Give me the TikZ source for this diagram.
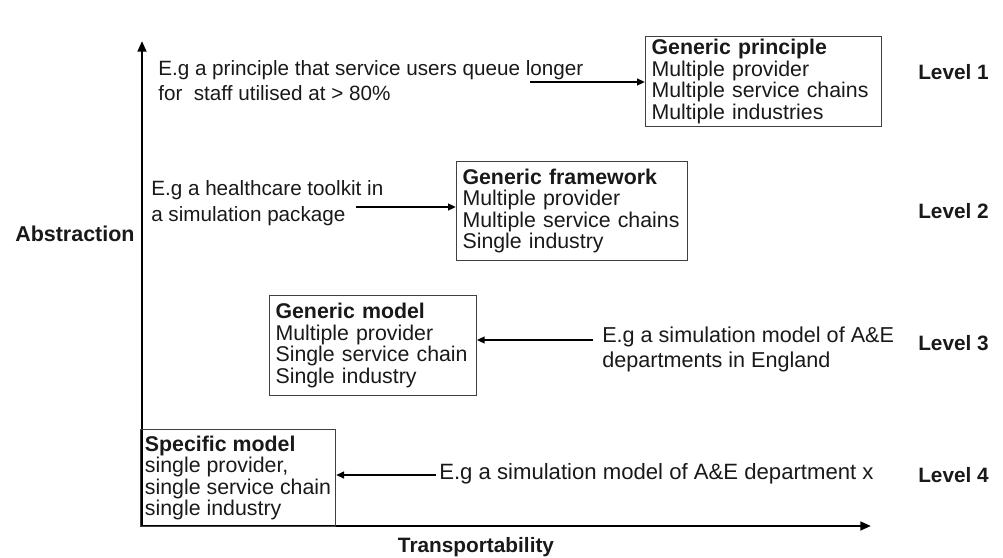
\documentclass[tikz,border=0pt]{standalone}
\usepackage{fontspec}
\setmainfont{Liberation Sans}
\usetikzlibrary{arrows.meta}
\begin{document}
\begin{tikzpicture}[x=0.75pt,y=-0.75pt,
  every node/.style={font=\fontsize{16}{16.2}\selectfont, inner sep=0pt, text=black!90},
  levelbox/.style={draw=black!75, line width=0.8pt, anchor=north west, align=left, inner xsep=4.5pt, inner ysep=0pt},
  extext/.style={anchor=west, align=left, font=\fontsize{16.4}{18.8}\selectfont},
  lbl/.style={font=\bfseries\fontsize{15.6}{18}\selectfont},
  axis/.style={line width=1.8pt, -{Triangle[length=8pt,width=6.5pt]}},
  link/.style={line width=1.5pt, -{Triangle[length=6pt,width=5pt]}}
]
\useasboundingbox (0,0) rectangle (1003,557);

% axes
\coordinate (O) at (142,526);
\coordinate (ytop) at (142,41);
\coordinate (xend) at (871,526);
\draw[axis] (O) -- (ytop);
\draw[axis] (140,526) coordinate (xstart) -- (xend);

\node[lbl, anchor=west, font=\bfseries\fontsize{16.1}{18}\selectfont] (abs) at (15,234) {Abstraction};
\node[lbl] (trans) at (476,547) {Transportability};

% boxes
\node[levelbox, text width=168pt, minimum height=67.5pt] (gp) at (645,36)
  {\textbf{Generic principle}\\Multiple provider\\Multiple service chains\\Multiple industries};
\node[levelbox, text width=164pt, minimum height=74.25pt] (gf) at (456,161)
  {\textbf{Generic framework}\\Multiple provider\\Multiple service chains\\Single industry};
\node[levelbox, text width=146pt, minimum height=75pt] (gm) at (269,295)
  {\textbf{Generic model}\\Multiple provider\\Single service chain\\Single industry};
\node[levelbox, inner xsep=0pt, minimum width=146.25pt, minimum height=72.75pt] (sm) at (140,429)
  {\textbf{Specific model}\\single provider,\\single service chain\\single industry};

% example texts
\node[extext, font=\fontsize{15.5}{18.8}\selectfont] (ex1) at (158,81) {E.g a principle that service users queue longer\\for\ \ staff utilised at > 80\%};
\node[extext, font=\fontsize{15.5}{19.2}\selectfont] (ex2) at (151,203) {E.g a healthcare toolkit in\\a simulation package};
\node[extext, font=\fontsize{16.2}{18.8}\selectfont] (ex3) at (602,349) {E.g a simulation model of A\&E\\departments in England};
\node[extext, font=\fontsize{16.6}{18.8}\selectfont] (ex4) at (439,474) {E.g a simulation model of A\&E department x};

% levels
\node[lbl, anchor=west] (l1) at (918,72) {Level 1};
\node[lbl, anchor=west] (l2) at (918,211) {Level 2};
\node[lbl, anchor=west] (l3) at (918,343) {Level 3};
\node[lbl, anchor=west] (l4) at (918,475) {Level 4};

% connectors
\coordinate (a1) at (530,82);
\coordinate (a2) at (356,207);
\coordinate (a3) at (593,340);
\coordinate (a4) at (436,475);
\draw[link] (a1) -- (a1 -| gp.west);
\draw[link] (a2) -- (a2 -| gf.west);
\draw[link] (a3) -- (a3 -| gm.east);
\draw[link] (a4) -- (a4 -| sm.east);
\end{tikzpicture}
\end{document}
